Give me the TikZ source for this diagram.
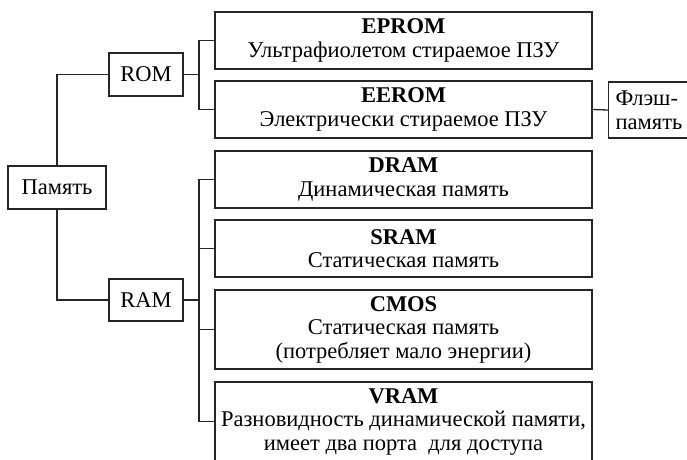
\documentclass[tikz,border=0pt]{standalone}
\usepackage{fontspec}
\setmainfont{Liberation Serif}
\begin{document}
\begin{tikzpicture}[x=1pt,y=-1pt,
  box/.style={draw=black!85, line width=1.3pt, rectangle, inner sep=0pt, align=center,
    font=\fontsize{22.5}{23.5}\selectfont},
  wide/.style={box, minimum width=377pt},
  conn/.style={draw=black!85, line width=1.3pt}]
\useasboundingbox (0,0) rectangle (687,459);
\node[box, minimum width=98pt, minimum height=43pt] (mem) at (57,187.5) {Память};
\node[box, minimum width=74pt, minimum height=43pt] (rom) at (146,74.5) {ROM};
\node[box, minimum width=74pt, minimum height=42pt] (ram) at (146,300) {RAM};
\node[wide, minimum height=57pt] (eprom) at (403.5,40.5) {\textbf{EPROM}\\Ультрафиолетом стираемое ПЗУ};
\node[wide, minimum height=57pt] (eerom) at (403.5,109.5) {\textbf{EEROM}\\Электрически стираемое ПЗУ};
\node[box, anchor=west, align=left, minimum height=56pt, inner xsep=7pt] (flash) at (608,110) {Флэш-\\память};
\node[wide, minimum height=57pt] (dram) at (403.5,179.5) {\textbf{DRAM}\\Динамическая память};
\node[wide, minimum height=57pt] (sram) at (403.5,248.5) {\textbf{SRAM}\\Статическая память};
\node[wide, minimum height=79pt] (cmos) at (403.5,329.5) {\textbf{CMOS}\\Статическая память\\(потребляет мало энергии)};
\node[wide, minimum height=79pt] (vram) at (403.5,421.5) {\textbf{VRAM}\\Разновидность динамической памяти,\\имеет два порта\ \ для доступа};
\coordinate (bx) at (199,0);
\draw[conn] (mem.north) |- (rom.west);
\draw[conn] (mem.south) |- (ram.west);
\draw[conn] (rom.east) -- (rom.east -| bx);
\draw[conn] (eprom.west) -- (eprom.west -| bx) -- (eerom.west -| bx) -- (eerom.west);
\draw[conn] (ram.east) -- (ram.east -| bx);
\draw[conn] (dram.west) -- (dram.west -| bx) -- (vram.west -| bx) -- (vram.west);
\draw[conn] (sram.west) -- (sram.west -| bx);
\draw[conn] (cmos.west) -- (cmos.west -| bx);
\draw[conn] (eerom.east) -- (flash.west);
\end{tikzpicture}
\end{document}
